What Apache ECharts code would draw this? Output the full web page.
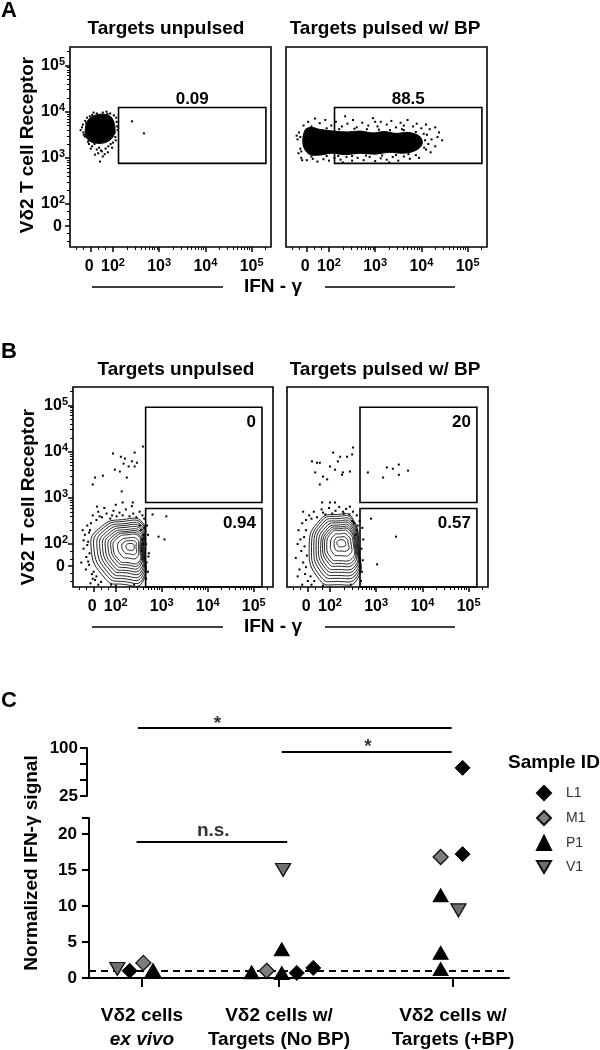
<!DOCTYPE html>
<html><head><meta charset="utf-8">
<script src="https://cdn.jsdelivr.net/npm/echarts@6/dist/echarts.min.js"></script>
<style>html,body{margin:0;padding:0;background:#fff}#c{width:600px;height:1050px}</style>
</head><body><div id="c"></div>
<script>
const FONT = '"Liberation Sans", Arial, Helvetica, sans-serif';

// ================= DATA =================
// Flow panels (A, B): values in display units of the biexponential axis
// (2 = 10^2, 3 = 10^3, 4 = 10^4, 5 = 10^5, 1.52 = 0)
const flowTickValues = [1.52, 2, 3, 4, 5];
const flowTickLabels = ['0{s| }', '10{s|2}', '10{s|3}', '10{s|4}', '10{s|5}'];
const panelTitles = ['Targets unpulsed', 'Targets pulsed w/ BP'];

// Panel A - dense event cores (outline of the saturated region) and sparse events
const aUnpulsedCore = [[1.40,3.61],[1.47,3.83],[1.68,3.94],[1.94,3.90],[2.04,3.69],[2.01,3.47],[1.83,3.33],[1.57,3.33],[1.43,3.43]];
const aUnpulsedEvents = [[1.44,3.87],[1.35,3.72],[1.33,3.66],[1.39,3.46],[1.55,3.25],[1.65,3.18],[1.76,3.14],[1.61,3.07],[1.78,3.03],[1.89,3.12],[1.72,2.92],[1.98,3.22],[2.00,3.33],[2.09,3.68],[2.07,3.87],[1.94,3.96],[1.78,3.98],[1.65,3.96],[2.04,3.55],[2.41,3.79],[2.67,3.53],[1.50,3.90],[1.40,3.80],[1.36,3.55],[1.46,3.35],[1.60,3.30],[1.70,3.22],[1.84,3.20],[1.95,3.30],[2.05,3.45],[2.08,3.78],[1.88,3.95],[1.58,3.98],[1.48,3.30],[1.82,3.08],[1.68,3.10],[1.30,3.60],
  [1.52,3.20],[1.74,3.16],[1.90,3.25],[2.06,3.38],[2.10,3.60],[1.37,3.50],[1.42,3.75],[1.55,3.93],[1.86,4.00],[2.02,3.92]];
const aPulsedCore = [[1.48,3.60],[1.62,3.66],[1.78,3.62],[2.10,3.58],[2.40,3.56],[2.67,3.58],[2.95,3.54],[3.19,3.57],[3.45,3.53],[3.73,3.55],[3.98,3.45],[4.01,3.28],[3.85,3.15],[3.60,3.10],[3.30,3.12],[3.00,3.08],[2.67,3.10],[2.35,3.07],[2.05,3.10],[1.80,3.06],[1.57,3.08],[1.44,3.28]];
const aPulsedEvents = [[1.45,3.70],[1.55,3.78],[1.62,3.68],[1.80,3.75],[1.92,3.82],[2.05,3.70],[2.15,3.78],[2.28,3.68],[2.40,3.74],[2.52,3.82],[2.60,3.66],[2.72,3.76],[2.85,3.70],[2.95,3.86],[3.05,3.68],[3.12,3.78],[3.25,3.72],[3.35,3.80],[3.45,3.66],[3.55,3.76],[3.62,3.70],[3.70,3.82],[3.82,3.68],[3.90,3.74],[4.00,3.64],[4.10,3.72],[4.18,3.62],[4.30,3.66],[4.38,3.55],[2.35,3.90],[3.00,3.78],[3.58,3.62],[1.70,3.85],
  [4.12,3.50],[4.22,3.40],[4.35,3.45],[4.45,3.38],[4.15,3.30],[4.30,3.25],[4.10,3.18],[4.20,3.12],
  [1.40,3.00],[1.52,2.95],[1.65,2.98],[1.75,2.92],[1.88,2.97],[2.00,2.94],[2.12,3.00],[2.25,2.96],[2.38,3.02],[2.50,2.94],[2.62,3.00],[2.75,2.95],[2.88,3.02],[3.00,2.93],[3.12,2.99],[3.25,2.96],[3.38,3.02],[3.50,2.94],[3.62,3.03],[3.75,2.98],[3.88,3.06],[3.95,3.00],[2.30,2.90],[3.30,2.90],
  [1.35,3.55],[1.32,3.40],[1.38,3.20],[1.34,3.10],[1.30,3.48],[1.42,2.95],
  [1.58,3.64],[1.95,3.64],[2.22,3.62],[2.55,3.63],[2.82,3.62],[3.08,3.61],[3.32,3.60],[3.62,3.60],[3.88,3.56],[4.05,3.52],[4.08,3.38],[4.06,3.22],
  [1.62,3.03],[1.95,3.04],[2.20,3.04],[2.50,3.04],[2.80,3.05],[3.15,3.05],[3.45,3.06],[3.72,3.08],[1.40,3.14],[1.38,3.45]];
// gates: [xmin, ymin, xmax, ymax, % of events]
const aGates = [[2.12, 2.88, 5.31, 4.09, '0.09'], [2.12, 2.88, 5.31, 4.09, '88.5']];

// Panel B - density contours (each an outline, outer to inner) and outlying events
const bUnpulsedContours = [
  [[2.15,2.53],[2.58,2.47],[2.62,1.95],[2.58,1.17],[2.15,1.13],[1.78,1.24],[1.46,1.95],[1.69,2.38]],
  [[2.16,2.49],[2.58,2.43],[2.61,1.95],[2.58,1.23],[2.16,1.19],[1.82,1.30],[1.52,1.95],[1.73,2.35]],
  [[2.17,2.44],[2.57,2.39],[2.60,1.95],[2.57,1.29],[2.17,1.25],[1.86,1.35],[1.59,1.95],[1.78,2.32]],
  [[2.18,2.40],[2.56,2.35],[2.59,1.95],[2.56,1.35],[2.18,1.31],[1.90,1.40],[1.65,1.95],[1.82,2.28]],
  [[2.20,2.36],[2.55,2.31],[2.58,1.95],[2.55,1.40],[2.20,1.38],[1.94,1.45],[1.71,1.95],[1.87,2.25]],
  [[2.21,2.31],[2.54,2.27],[2.57,1.95],[2.54,1.46],[2.21,1.43],[1.97,1.50],[1.77,1.95],[1.91,2.22]],
  [[2.22,2.27],[2.52,2.24],[2.56,1.95],[2.52,1.51],[2.22,1.49],[2.01,1.55],[1.83,1.95],[1.96,2.19]],
  [[2.23,2.24],[2.51,2.20],[2.54,1.95],[2.51,1.56],[2.23,1.55],[2.05,1.60],[1.89,1.95],[2.00,2.16]],
  [[2.24,2.20],[2.50,2.17],[2.52,1.95],[2.50,1.61],[2.24,1.60],[2.08,1.64],[1.94,1.95],[2.04,2.13]],
  [[2.25,2.13],[2.46,2.11],[2.49,1.95],[2.46,1.71],[2.25,1.70],[2.14,1.73],[2.04,1.95],[2.11,2.08]],
  [[2.27,2.07],[2.43,2.05],[2.44,1.95],[2.43,1.79],[2.27,1.79],[2.20,1.81],[2.13,1.95],[2.18,2.04]],
  [[2.28,2.01],[2.38,2.00],[2.40,1.95],[2.38,1.87],[2.28,1.87],[2.25,1.88],[2.22,1.95],[2.24,1.99]]
];
const bPulsedContours = [
  [[2.16,2.64],[2.48,2.57],[2.63,1.88],[2.59,1.23],[2.16,1.12],[1.77,1.23],[1.55,1.94],[1.79,2.53]],
  [[2.16,2.60],[2.48,2.53],[2.62,1.89],[2.58,1.29],[2.16,1.19],[1.80,1.29],[1.60,1.94],[1.82,2.50]],
  [[2.17,2.55],[2.47,2.49],[2.61,1.90],[2.57,1.35],[2.17,1.26],[1.84,1.35],[1.65,1.95],[1.85,2.46]],
  [[2.17,2.50],[2.46,2.45],[2.60,1.91],[2.56,1.41],[2.17,1.32],[1.87,1.41],[1.70,1.96],[1.88,2.42]],
  [[2.18,2.46],[2.45,2.41],[2.58,1.93],[2.55,1.47],[2.18,1.39],[1.90,1.47],[1.75,1.97],[1.92,2.38]],
  [[2.18,2.41],[2.44,2.37],[2.57,1.94],[2.54,1.52],[2.18,1.45],[1.93,1.52],[1.80,1.97],[1.95,2.34]],
  [[2.19,2.37],[2.43,2.33],[2.55,1.95],[2.52,1.58],[2.19,1.52],[1.97,1.58],[1.84,1.98],[1.98,2.31]],
  [[2.19,2.33],[2.42,2.30],[2.53,1.96],[2.50,1.63],[2.19,1.58],[2.00,1.63],[1.88,1.98],[2.01,2.28]],
  [[2.19,2.29],[2.40,2.26],[2.51,1.97],[2.48,1.69],[2.19,1.64],[2.03,1.69],[1.93,1.99],[2.04,2.25]],
  [[2.20,2.22],[2.37,2.20],[2.46,1.98],[2.43,1.78],[2.20,1.75],[2.08,1.78],[2.01,2.00],[2.09,2.19]],
  [[2.21,2.15],[2.34,2.14],[2.40,1.99],[2.39,1.87],[2.21,1.85],[2.13,1.87],[2.09,2.01],[2.13,2.13]],
  [[2.21,2.09],[2.30,2.08],[2.34,2.01],[2.33,1.96],[2.21,1.94],[2.18,1.95],[2.15,2.02],[2.18,2.08]]
];
const bUnpulsedEvents = [[1.94,3.96],[2.11,3.89],[2.20,3.85],[2.35,3.79],[2.41,3.98],[2.46,3.76],[2.17,3.74],[2.28,3.68],[2.41,3.68],[1.98,3.61],[2.09,3.57],[2.24,3.44],[1.72,3.48],[1.55,3.44],[1.50,3.29],[2.13,3.14],[2.15,2.90],[2.37,2.90],[1.59,2.81],[2.59,4.11],[2.80,2.64],[3.10,2.60],[2.93,2.16],[3.06,2.10],[2.71,1.73],
  [1.50,2.62],[1.62,2.70],[1.70,2.58],[1.80,2.66],[1.88,2.55],[1.95,2.72],[2.02,2.60],[2.08,2.68],[2.15,2.62],[2.22,2.75],[2.30,2.60],[2.38,2.66],[2.45,2.58],[2.52,2.70],[2.58,2.62],[1.58,2.52],[2.62,2.55],[1.75,2.78],[2.35,2.82],[2.00,2.85],
  [1.38,2.40],[1.33,2.20],[1.40,2.05],[1.30,1.90],[1.36,1.72],[1.42,1.55],[1.35,1.45],[1.48,1.35],[1.55,1.22],[1.45,1.15],[1.62,1.12],[1.28,2.30],[1.44,2.30],[1.25,1.60],
  [2.68,2.40],[2.70,2.20],[2.66,2.00],[2.72,1.80],[2.67,1.60],[2.70,1.40],[2.66,1.25],[1.90,1.12],[2.00,1.10],[2.40,1.12],
  [2.55,2.30],[2.60,2.20],[2.58,2.10],[2.62,2.35],[2.52,2.40],[2.60,2.00],[2.56,1.85],[2.62,1.70],
  [1.42,2.25],[1.38,1.98],[1.43,1.80],[1.40,1.62],[1.52,1.40],[1.58,1.30],[1.50,1.25],[1.68,1.18],[1.30,2.08],[1.46,2.45],[1.65,2.60],[1.92,2.62]];
const bPulsedEvents = [[1.61,3.79],[1.72,3.76],[1.78,3.76],[2.07,3.98],[2.22,3.89],[2.37,3.89],[2.48,3.94],[2.50,4.09],[2.17,3.79],[2.00,3.68],[2.11,3.61],[2.28,3.55],[2.43,3.57],[1.85,3.46],[1.78,3.29],[1.68,3.55],[1.94,3.40],[2.26,3.50],
  [2.82,3.55],[3.15,3.44],[3.23,3.66],[3.36,3.63],[3.49,3.72],[3.49,3.50],[3.69,3.59],
  [2.89,2.55],[3.43,2.16],[3.02,1.56],
  [1.83,2.90],[2.00,2.90],[2.11,2.90],[2.43,2.81],[1.42,2.70],
  [1.55,2.62],[1.65,2.70],[1.72,2.58],[1.82,2.75],[1.90,2.64],[1.98,2.78],[2.05,2.66],[2.12,2.72],[2.20,2.80],[2.28,2.70],[2.35,2.76],[2.42,2.64],[2.50,2.70],[2.58,2.62],[2.64,2.50],[1.48,2.52],
  [1.40,2.45],[1.32,2.30],[1.44,2.15],[1.30,2.00],[1.38,1.85],[1.26,1.70],[1.42,1.60],[1.34,1.45],[1.46,1.35],[1.30,1.30],[1.52,1.20],[1.40,1.12],[1.60,1.12],
  [2.70,2.35],[2.72,2.10],[2.68,1.90],[2.71,1.65],[2.69,1.40],[2.67,1.20],[1.85,1.10],[2.45,1.12],
  [2.52,2.45],[2.58,2.30],[2.55,2.20],[2.60,2.40],[2.48,2.50],
  [1.48,2.30],[1.45,1.95],[1.50,1.75],[1.48,1.50],[1.58,1.30],[1.66,1.20],[1.36,2.10],[1.60,2.55],[1.85,2.68],[2.30,2.66]];
const bGates = [
  [[2.65, 2.90, 5.18, 4.96, '0'], [2.65, 1.07, 5.18, 2.77, '0.94']],
  [[2.65, 2.90, 5.18, 4.96, '20'], [2.65, 1.07, 5.18, 2.77, '0.57']]
];

// Panel C
const groupPos = [1, 2, 3.27];
const groupLabels = [['Vδ2 cells', 'ex vivo'], ['Vδ2 cells w/', 'Targets (No BP)'], ['Vδ2 cells w/', 'Targets (+BP)']];
const lowerTicks = [0, 5, 10, 15, 20];
const upperTicks = [25, 50, 75, 100];
const upperTickLabels = [25, 100];
const baselineValue = 1;
// [x position (group position + jitter), normalized IFN-γ signal]
const L1 = [[0.91, 1.0], [2.13, 0.7], [2.25, 1.4], [3.34, 17.2], [3.34, 69]];
const M1 = [[1.01, 2.1], [1.91, 1.0], [3.18, 16.8]];
const P1 = [[1.08, 1.1], [1.80, 0.8], [2.02, 0.7], [2.02, 4.0], [3.18, 11.5], [3.18, 3.5], [3.18, 1.25]];
const V1 = [[0.82, 1.25], [2.03, 15.0], [3.31, 9.4]];
// significance bars: [x start, x end, y]
const sigUpper = [[0.97, 3.26, 131.25], [2.02, 3.26, 93.75]];
const sigLower = [[0.96, 2.06, 18.9]];
const sigUpperText = [['*', 1.55, 137.5], ['*', 2.65, 102.2]];
const sigLowerText = [['n.s.', 1.52, 20.46]];

// ================= CHART =================
const flowGrids = [
  {left: 70, top: 47, width: 201, height: 200},
  {left: 286, top: 47, width: 201, height: 200},
  {left: 73, top: 387, width: 200, height: 200},
  {left: 287, top: 387, width: 201, height: 200}
];
const flowHasYLabels = [true, false, true, false];
const FX = [1.07, 5.42], FY = [1.07, 5.40];
const minorTicks = [1.20, 1.36, 1.68, 1.84];
for (let d = 2; d <= 5; d++) for (let k = 2; k <= 9; k++) { const v = d + Math.log10(k); if (v < 5.42) minorTicks.push(+v.toFixed(3)); }

const grids = [], xAxes = [], yAxes = [], series = [];
const tickLS = {color: '#000', width: 1.5};
const supRich = {s: {fontSize: 11, fontWeight: 'bold', fontFamily: FONT, color: '#000', verticalAlign: 'bottom', padding: [0, 0, 8, 0]}};
function flowLabel(v) {
  let best = 0; flowTickValues.forEach((t, i) => { if (Math.abs(t - v) < Math.abs(flowTickValues[best] - v)) best = i; });
  return flowTickLabels[best];
}
flowGrids.forEach((g, i) => {
  grids.push(Object.assign({show: true, borderColor: '#000', borderWidth: 1.6, backgroundColor: 'transparent', outerBoundsMode: 'none', containLabel: false}, g));
  const base = {gridIndex: i, type: 'value', splitLine: {show: false}, axisLine: {show: false}};
  const yl = flowHasYLabels[i];
  xAxes.push(Object.assign({}, base, {min: FX[0], max: FX[1], position: 'bottom',
    axisTick: {show: true, length: 5, lineStyle: tickLS, customValues: flowTickValues},
    axisLabel: {show: true, customValues: flowTickValues, formatter: flowLabel, fontSize: 16, fontWeight: 'bold', fontFamily: FONT, color: '#000', margin: 10, rich: supRich}}));
  xAxes.push(Object.assign({}, base, {min: FX[0], max: FX[1], position: 'bottom',
    axisTick: {show: true, length: 3, lineStyle: {color: '#000', width: 1}, customValues: minorTicks}, axisLabel: {show: false}}));
  yAxes.push(Object.assign({}, base, {min: FY[0], max: FY[1], position: 'left',
    axisTick: {show: yl, length: 5, lineStyle: tickLS, customValues: flowTickValues},
    axisLabel: {show: yl, customValues: flowTickValues, formatter: flowLabel, fontSize: 16, fontWeight: 'bold', fontFamily: FONT, color: '#000', margin: 5, rich: supRich}}));
  yAxes.push(Object.assign({}, base, {min: FY[0], max: FY[1], position: 'left',
    axisTick: {show: yl, length: 3, lineStyle: {color: '#000', width: 1}, customValues: minorTicks}, axisLabel: {show: false}}));
});

function polygonSeries(gi, pts) {
  return {type: 'custom', xAxisIndex: 2 * gi, yAxisIndex: 2 * gi, silent: true, data: pts,
    renderItem: (params, api) => params.dataIndex !== 0 ? null : ({type: 'polygon',
      shape: {points: pts.map(p => api.coord(p)), smooth: 0.35}, style: {fill: '#000', stroke: '#000', lineWidth: 1}})};
}
function eventSeries(gi, pts) {
  return {type: 'scatter', xAxisIndex: 2 * gi, yAxisIndex: 2 * gi, silent: true, data: pts, symbol: 'rect', symbolSize: 2,
    itemStyle: {color: '#000', opacity: 1}, clip: true};
}
function contourSeries(gi, contours) {
  return {type: 'custom', xAxisIndex: 2 * gi, yAxisIndex: 2 * gi, silent: true, data: contours.map(c => c[0]),
    renderItem: (params, api) => ({type: 'polygon', shape: {points: contours[params.dataIndex].map(p => api.coord(p)), smooth: 0.55},
      style: {fill: 'none', stroke: '#222', lineWidth: 1}})};
}
function gateSeries(gi, gates, labelAbove) {
  return {type: 'custom', xAxisIndex: 2 * gi, yAxisIndex: 2 * gi, silent: true, z: 5, data: gates.map(g => g.slice(0, 4)),
    renderItem: (params, api) => {
      const g = gates[params.dataIndex];
      const a = api.coord([g[0], g[3]]), b = api.coord([g[2], g[1]]);
      const txt = labelAbove
        ? {type: 'text', x: (a[0] + b[0]) / 2, y: a[1] - 8, style: {text: g[4], fontSize: 17, fontWeight: 'bold', fontFamily: FONT, fill: '#000', align: 'center', verticalAlign: 'middle', textAlign: 'center', textVerticalAlign: 'middle'}}
        : {type: 'text', x: b[0] - 6, y: a[1] + 15, style: {text: g[4], fontSize: 17, fontWeight: 'bold', fontFamily: FONT, fill: '#000', align: 'right', verticalAlign: 'middle', textAlign: 'right', textVerticalAlign: 'middle'}};
      return {type: 'group', children: [
        {type: 'rect', shape: {x: a[0], y: a[1], width: b[0] - a[0], height: b[1] - a[1]}, style: {fill: 'none', stroke: '#000', lineWidth: 1.6}},
        txt]};
    }};
}
series.push(eventSeries(0, aUnpulsedEvents), polygonSeries(0, aUnpulsedCore), gateSeries(0, [aGates[0]], true));
series.push(eventSeries(1, aPulsedEvents), polygonSeries(1, aPulsedCore), gateSeries(1, [aGates[1]], true));
series.push(eventSeries(2, bUnpulsedEvents), contourSeries(2, bUnpulsedContours), gateSeries(2, bGates[0], false));
series.push(eventSeries(3, bPulsedEvents), contourSeries(3, bPulsedContours), gateSeries(3, bGates[1], false));

// ----- Panel C grids (broken y axis) -----
const CX = [0.613, 3.679];
const C_UP = 8, C_LO = 9; // axis indices for panel C
grids.push({left: 89, right: 91, top: 748, height: 48, outerBoundsMode: 'none', containLabel: false}); // grid 4 upper
grids.push({left: 89, right: 91, top: 818, height: 160, outerBoundsMode: 'none', containLabel: false}); // grid 5 lower
xAxes.push({gridIndex: 4, type: 'value', min: CX[0], max: CX[1], show: false});
xAxes.push({gridIndex: 5, type: 'value', min: CX[0], max: CX[1], position: 'bottom', offset: 15,
  axisLine: {show: true, lineStyle: {color: '#000', width: 2}}, splitLine: {show: false},
  axisTick: {show: true, length: 9, lineStyle: {color: '#000', width: 2}, customValues: groupPos},
  axisLabel: {show: true, customValues: groupPos, margin: 11, color: '#000', fontFamily: FONT,
    formatter: v => { let i = 0; groupPos.forEach((p, k) => { if (Math.abs(p - v) < Math.abs(groupPos[i] - v)) i = k; });
      return '{b|' + groupLabels[i][0] + '}\n' + (i === 0 ? '{i|' : '{b|') + groupLabels[i][1] + '}'; },
    rich: {b: {fontSize: 19, fontWeight: 'bold', fontFamily: FONT, color: '#000', lineHeight: 24},
           i: {fontSize: 19, fontWeight: 'bold', fontStyle: 'italic', fontFamily: FONT, color: '#000', lineHeight: 24}}}});
yAxes.push({gridIndex: 4, type: 'value', min: 25, max: 100, offset: 2, position: 'left',
  axisLine: {show: true, lineStyle: {color: '#000', width: 2}}, splitLine: {show: false},
  axisTick: {show: true, length: 7, lineStyle: {color: '#000', width: 2}, customValues: upperTicks},
  axisLabel: {show: true, customValues: upperTickLabels, margin: 9, fontSize: 17, fontWeight: 'bold', fontFamily: FONT, color: '#000'}});
yAxes.push({gridIndex: 5, type: 'value', min: 0, max: 22.22, position: 'left',
  axisLine: {show: true, lineStyle: {color: '#000', width: 2}}, splitLine: {show: false},
  axisTick: {show: true, length: 7, lineStyle: {color: '#000', width: 2}, customValues: lowerTicks.concat([22.22])},
  axisLabel: {show: true, customValues: lowerTicks, margin: 12, fontSize: 17, fontWeight: 'bold', fontFamily: FONT, color: '#000'}});

const sampleStyles = {
  L1: {symbol: 'diamond', symbolSize: 15, itemStyle: {color: '#000', borderColor: '#000', borderWidth: 1, opacity: 1}},
  M1: {symbol: 'diamond', symbolSize: 15, itemStyle: {color: '#7d7d7d', borderColor: '#111', borderWidth: 1.3, opacity: 1}},
  P1: {symbol: 'triangle', symbolSize: [15, 13], itemStyle: {color: '#000', borderColor: '#000', borderWidth: 1, opacity: 1}},
  V1: {symbol: 'path://M0,0L20,0L10,17Z', symbolSize: [15, 13], itemStyle: {color: '#6f6f6f', borderColor: '#111', borderWidth: 1.3, opacity: 1}}
};
const sampleData = {L1, M1, P1, V1};
const sampleNames = ['L1', 'M1', 'P1', 'V1'];
sampleNames.forEach((n, k) => {
  [C_LO, C_UP].forEach(ai => {
    const s = Object.assign({type: 'scatter', name: n, xAxisIndex: ai, yAxisIndex: ai, data: sampleData[n], clip: true, z: 10 + k, silent: true}, sampleStyles[n]);
    if (n === 'L1' && ai === C_LO) s.markLine = {silent: true, symbol: 'none', animation: false, label: {show: false},
      lineStyle: {color: '#000', width: 2, type: [7, 5]}, data: [{yAxis: baselineValue}]};
    series.push(s);
  });
});
function sigLineSeries(ai, bars) {
  return bars.map(b => ({type: 'line', xAxisIndex: ai, yAxisIndex: ai, data: [[b[0], b[2]], [b[1], b[2]]], clip: false, silent: true,
    symbol: 'none', lineStyle: {color: '#000', width: 2}}));
}
function sigTextSeries(ai, texts) {
  return {type: 'scatter', xAxisIndex: ai, yAxisIndex: ai, clip: false, silent: true, symbolSize: 1, itemStyle: {color: 'rgba(0,0,0,0)'},
    data: texts.map(t => ({name: t[0], value: [t[1], t[2]]})),
    label: {show: true, position: 'inside', formatter: '{b}', fontSize: 19, fontWeight: 'bold', fontFamily: FONT, color: '#000'}};
}
series.push(...sigLineSeries(C_UP, sigUpper), ...sigLineSeries(C_LO, sigLower), sigTextSeries(C_UP, sigUpperText), sigTextSeries(C_LO, sigLowerText));

function gText(text, x, y, size, opts) {
  return Object.assign({type: 'text', x, y, silent: true, style: Object.assign({text, fontSize: size, fontWeight: 'bold', fontFamily: FONT, fill: '#000',
    align: 'center', verticalAlign: 'middle', textAlign: 'center', textVerticalAlign: 'middle'}, (opts && opts.style) || {})}, (opts && opts.el) || {});
}
const leftStyle = {style: {align: 'left', textAlign: 'left'}};
const graphics = [
  gText('A', 1, 11, 22, leftStyle), gText('B', 1, 352, 22, leftStyle), gText('C', 1, 701, 22, leftStyle),
  gText(panelTitles[0], 166, 29, 19), gText(panelTitles[1], 385, 29, 19),
  gText(panelTitles[0], 176, 370, 19), gText(panelTitles[1], 385, 370, 19),
  gText('Vδ2 T cell Receptor', 28, 145, 19, {el: {rotation: Math.PI / 2}}),
  gText('Vδ2 T cell Receptor', 29, 497, 19, {el: {rotation: Math.PI / 2}}),
  gText('IFN - γ', 273, 287, 19), gText('IFN - γ', 273, 627, 19),
  {type: 'line', silent: true, shape: {x1: 92, y1: 287, x2: 223, y2: 287}, style: {stroke: '#000', lineWidth: 1.5}},
  {type: 'line', silent: true, shape: {x1: 325, y1: 287, x2: 455, y2: 287}, style: {stroke: '#000', lineWidth: 1.5}},
  {type: 'line', silent: true, shape: {x1: 92, y1: 627, x2: 223, y2: 627}, style: {stroke: '#000', lineWidth: 1.5}},
  {type: 'line', silent: true, shape: {x1: 325, y1: 627, x2: 455, y2: 627}, style: {stroke: '#000', lineWidth: 1.5}},
  gText('Normalized IFN-γ signal', 32, 863, 19, {el: {rotation: Math.PI / 2}}),
  gText('Sample ID', 508, 763, 19, leftStyle)
];

const chart = echarts.init(document.getElementById('c'), null, {renderer: 'canvas'});
chart.setOption({
  animation: false,
  backgroundColor: '#fff',
  textStyle: {fontFamily: FONT},
  grid: grids, xAxis: xAxes, yAxis: yAxes,
  legend: {data: sampleNames, orient: 'vertical', left: 531, top: 780, itemWidth: 14, itemHeight: 14, itemGap: 9,
    selectedMode: false, formatter: '{t|{name}}',
    textStyle: {fontSize: 14, color: '#333', fontFamily: FONT, rich: {t: {fontSize: 14, color: '#333', fontFamily: FONT, padding: [0, 0, 0, 10]}}}},
  graphic: graphics,
  series: series
});
</script></body></html>
